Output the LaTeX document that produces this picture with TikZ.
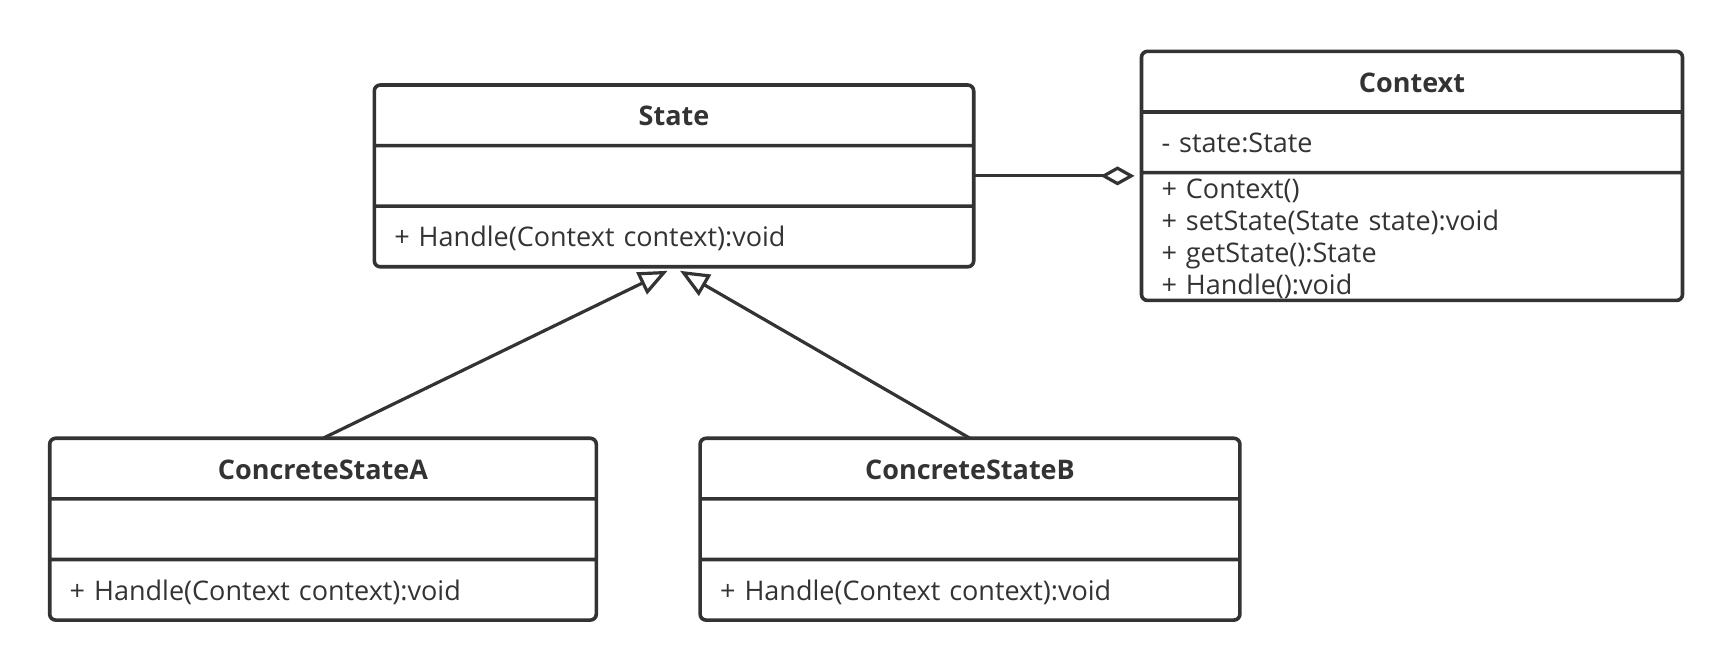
\documentclass[tikz,border=0pt]{standalone}
\usepackage{fontspec}
\setmainfont{Open Sans}
\usetikzlibrary{shapes.multipart,arrows.meta,positioning}
\definecolor{umlgray}{HTML}{333333}
\newcommand{\partstrut}{\rule[-9pt]{0pt}{28.5pt}}
\newcommand{\classtitle}[1]{\hbox to\hsize{\hss\partstrut\textbf{#1}\hss}}
\tikzset{
classbox/.style={
  rectangle split,
  rectangle split parts=3,
  draw=umlgray,
  line width=1.8pt,
  rounded corners=3pt,
  inner xsep=10pt,
  inner ysep=0pt,
  outer sep=0pt,
  align=left,
  text=umlgray,
  font=\fontsize{13.5}{16}\selectfont,
},
inherit/.style={
  -{Triangle[open,length=14.5pt,width=12pt]},
  draw=umlgray,
  line width=1.6pt,
},
aggr/.style={
  -{Diamond[open,length=17pt,width=9.5pt]},
  draw=umlgray,
  line width=1.6pt,
  shorten >=3.5pt,
},
}
\begin{document}
\begin{tikzpicture}[x=0.5pt,y=0.5pt]
\fill[white] (0,0) rectangle (1731,668);
\useasboundingbox (0,0) rectangle (1731,668);

\node[classbox, text width=279.7pt, anchor=north] (state) at (674,583)
  {\classtitle{State}
   \nodepart{two}\partstrut
   \nodepart{three}\partstrut+ Handle(Context context):void};

\node[classbox, text width=250.5pt, right=83.9pt of state] (context)
  {\classtitle{Context}
   \nodepart{two}\partstrut- state:State
   \nodepart{three}\rule{0pt}{12pt}+ Context()\\
   + setState(State state):void\\
   + getState():State\\
   + Handle():void};

\node[classbox, text width=253.3pt, anchor=north] (concreteA) at (323,229.7)
  {\classtitle{ConcreteStateA}
   \nodepart{two}\partstrut
   \nodepart{three}\partstrut+ Handle(Context context):void};
\node[classbox, text width=249.9pt, right=51.9pt of concreteA] (concreteB)
  {\classtitle{ConcreteStateB}
   \nodepart{two}\partstrut
   \nodepart{three}\partstrut+ Handle(Context context):void};

\coordinate (tipA) at ([xshift=-3.2pt,yshift=-2pt]state.south);
\coordinate (tipB) at ([xshift=3pt,yshift=-2pt]state.south);

\draw[aggr] (state.east) -- (context.west);
\draw[inherit] (concreteA.north) -- (tipA);
\draw[inherit] (concreteB.north) -- (tipB);
\end{tikzpicture}
\end{document}
